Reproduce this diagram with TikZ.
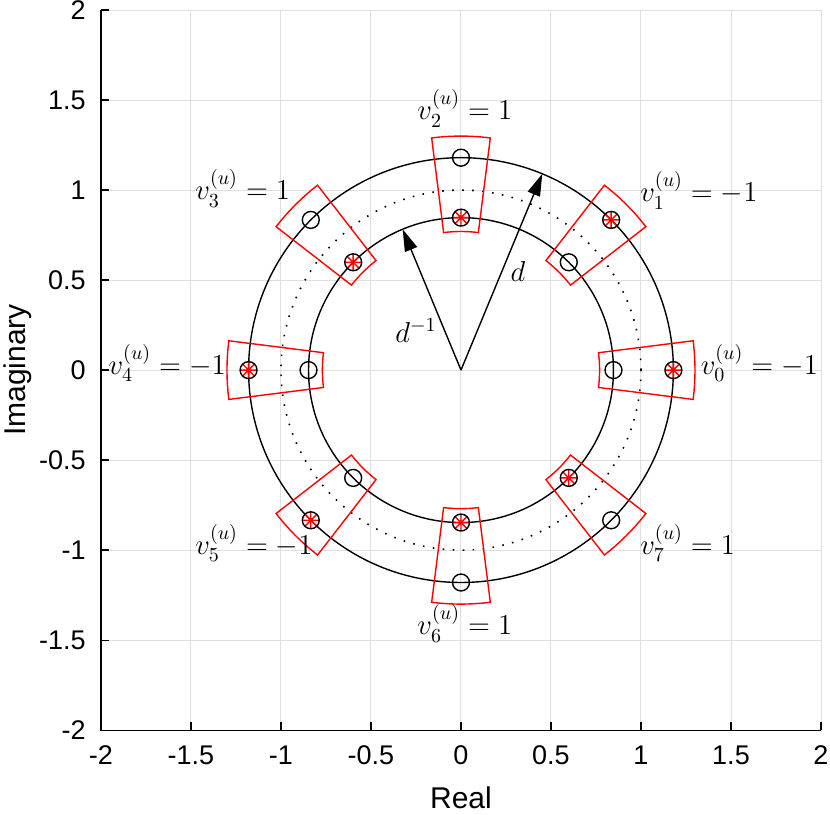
\documentclass[tikz,border=0pt]{standalone}
\usepackage{amsmath}
\usepackage{fontspec}
\setsansfont{Liberation Sans}
\usepackage{tikz}
\usetikzlibrary{arrows.meta, positioning, calc}
\definecolor{gridcolor}{RGB}{223, 223, 223}
\definecolor{markred}{RGB}{255, 0, 0}
\tikzstyle{ticklabel} = [font=\sffamily\fontsize{13.5}{16}\selectfont, inner sep=0pt]
\tikzstyle{axislabel} = [font=\sffamily\fontsize{15}{18}\selectfont, inner sep=0pt]
\tikzstyle{symlabel} = [font=\fontsize{14.4}{17}\selectfont, inner sep=0pt, anchor=mid west]
\tikzstyle{region} = [draw=markred, line width=0.7pt]
\tikzstyle{ring} = [draw=black, line width=0.7pt]
\tikzstyle{arrow} = [line width=0.7pt, -{Triangle[length=11pt,width=6.5pt]}]

\begin{document}
\begin{tikzpicture}[x=90pt, y=90pt]
    \useasboundingbox (-2.561,-2.467) rectangle (2.05,2.056);

    % Grid
    \foreach \g in {-1.5,-1,...,2} {
        \draw[gridcolor, line width=0.5pt] (\g,-2) -- (\g,2);
        \draw[gridcolor, line width=0.5pt] (-2,\g) -- (2,\g);
    }

    % Axes and ticks
    \draw[line width=0.6pt] (-2,2) -- (-2,-2) -- (2,-2);
    \foreach \g [count=\i] in {-2,-1.5,-1,-0.5,0,0.5,1,1.5,2} {
        \draw[line width=0.6pt] (\g,-2) -- (\g,-1.955);
        \draw[line width=0.6pt] (-2,\g) -- (-1.955,\g);
        \node[ticklabel] (xtick\i) at (\g,-2.14) {\g};
        \node[ticklabel, anchor=east] (ytick\i) at (-2.083,\g) {\g};
    }
    \node[axislabel] (xlab) at (0,-2.378) {Real};
    \node[axislabel, rotate=90] (ylab) at (-2.46,0) {Imaginary};

    % Circles of radius d, 1 and 1/d
    \draw[ring] (0,0) circle[radius=1.18];
    \draw[ring] (0,0) circle[radius=0.847];
    \draw[line width=0.8pt, dash pattern=on 0.8pt off 4.2pt] (0,0) circle[radius=1];

    % Decision regions
    \foreach \k in {0,...,7} {
        \pgfmathsetmacro{\a}{45*\k}
        \draw[region] (\a-7.2:0.77) arc[start angle=\a-7.2, end angle=\a+7.2, radius=0.77]
            -- (\a+7.2:1.30) arc[start angle=\a+7.2, end angle=\a-7.2, radius=1.30] -- cycle;
    }

    % Transmitted symbols
    \foreach \k/\r in {0/1.18, 1/1.18, 2/0.847, 3/0.847, 4/1.18, 5/1.18, 6/0.847, 7/0.847} {
        \draw[markred, line width=0.7pt] (45*\k:\r) +(-0.045,0) -- +(0.045,0)
            +(0,-0.045) -- +(0,0.045) +(45:0.045) -- +(225:0.045) +(135:0.045) -- +(315:0.045);
    }
    \foreach \k in {0,...,7} {
        \draw[ring] (45*\k:1.18) circle[radius=0.047];
        \draw[ring] (45*\k:0.847) circle[radius=0.047];
    }

    % Radius arrows
    \coordinate (o) at (0,0);
    \coordinate (dtip) at (67.5:1.18);
    \coordinate (dinvtip) at (112.5:0.847);
    \draw[arrow] (o) -- (dtip);
    \draw[arrow] (o) -- (dinvtip);
    \node[font=\fontsize{14.4}{17}\selectfont, inner sep=0pt] (dlab) at (0.317,0.55) {$d$};
    \node[font=\fontsize{14.4}{17}\selectfont, inner sep=0pt] (dinvlab) at (-0.25,0.22) {$d^{-1}$};

    % Symbol labels
    \node[symlabel] (v0) at (1.33,0) {$v_0^{(u)}=-1$};
    \node[symlabel] (v1) at (0.994,0.96) {$v_1^{(u)}=-1$};
    \node[symlabel] (v2) at (-0.244,1.415) {$v_2^{(u)}=1$};
    \node[symlabel] (v3) at (-1.478,0.97) {$v_3^{(u)}=1$};
    \node[symlabel, anchor=mid east] (v4) at (-1.305,0) {$v_4^{(u)}=-1$};
    \node[symlabel] (v5) at (-1.478,-1.0) {$v_5^{(u)}=-1$};
    \node[symlabel] (v6) at (-0.244,-1.445) {$v_6^{(u)}=1$};
    \node[symlabel] (v7) at (0.994,-1.0) {$v_7^{(u)}=1$};
\end{tikzpicture}
\end{document}
